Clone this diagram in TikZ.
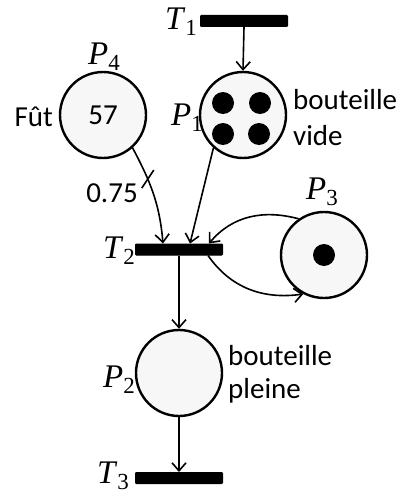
\documentclass[tikz,border=0pt]{standalone}
\usepackage{fontspec}
\setmainfont{Carlito}
\newfontfamily\lblserif{Liberation Serif}
\newcommand{\plbl}[2]{{\lblserif\fontsize{33}{36}\selectfont\itshape #1\/}{\lblserif\fontsize{23}{26}\selectfont\raisebox{-6pt}{#2}}}
\usetikzlibrary{arrows.meta}
\begin{document}
\begin{tikzpicture}[x=1pt,y=-1pt,
  place/.style={circle,draw,line width=2.4pt,fill=black!3,minimum size=86pt,inner sep=0pt},
  trans/.style={rectangle,fill=black,draw=black,line width=1pt,rounded corners=0.8pt,minimum width=87pt,minimum height=11pt,inner sep=0pt},
  token/.style={circle,fill=black,minimum size=22pt,inner sep=0pt},
  arc/.style={line width=1.6pt,-{Straight Barb[length=8pt,width=14pt,line width=1.6pt]}},
  lbl/.style={inner sep=0pt},
  txt/.style={font=\fontsize{29}{35}\selectfont,inner sep=0pt}]
\useasboundingbox (0,0) rectangle (403,495);
% transitions
\node[trans] (T1) at (244,21) {};
\node[trans] (T2) at (179,249.5) {};
\node[trans] (T3) at (179,478) {};
% places
\node[place] (P4) at (103,115) {};
\node[place] (P1) at (243,115) {};
\node[place] (P3) at (324,255) {};
\node[place] (P2) at (179,373) {};
% tokens
\node[token] (k1) at (223,103) {};
\node[token] (k2) at (260,103) {};
\node[token] (k3) at (223,134) {};
\node[token] (k4) at (259,134) {};
\node[token] (k5) at (324,255) {};
\node[txt] (n57) at (103,115) {57};
% labels
\node[lbl] (lT1) at (181,22) {\plbl{T}{1}};
\node[lbl] (lT2) at (119,251) {\plbl{T}{2}};
\node[lbl] (lT3) at (113,476) {\plbl{T}{3}};
\node[lbl] (lP4) at (104,57) {\plbl{P}{4}};
\node[lbl] (lP1) at (187,118) {\plbl{P}{1}};
\node[lbl] (lP3) at (322,192) {\plbl{P}{3}};
\node[lbl] (lP2) at (119,380) {\plbl{P}{2}};
\node[txt,anchor=east] (fut) at (53,117) {Fût};
\node[txt,anchor=west] (bv1) at (293,100) {bouteille};
\node[txt,anchor=west] (bv2) at (293,136) {vide};
\node[txt,anchor=west] (bp1) at (228,356) {bouteille};
\node[txt,anchor=west] (bp2) at (228,391) {pleine};
\node[txt] (w) at (112,193) {0.75};
% arcs
\draw[arc] (T1.south) -- (P1.north);
\draw[arc] (P4.-48) to[out=-62,in=95] coordinate[pos=0.33] (cut) ([xshift=-16pt]T2.north);
\draw[line width=1.6pt] ([shift={(-6,9)}]cut) -- ([shift={(6,-9)}]cut);
\draw[arc] (P1.-132) -- ([xshift=11pt]T2.north);
\draw[arc] (P3.125) to[out=165,in=50] ([xshift=30pt]T2.north);
\draw[arc] ([xshift=29pt]T2.south) to[out=-55,in=188] (P3.-118);
\draw[arc] (T2.south) -- (P2.north);
\draw[arc] (P2.south) -- (T3.north);
\end{tikzpicture}
\end{document}
